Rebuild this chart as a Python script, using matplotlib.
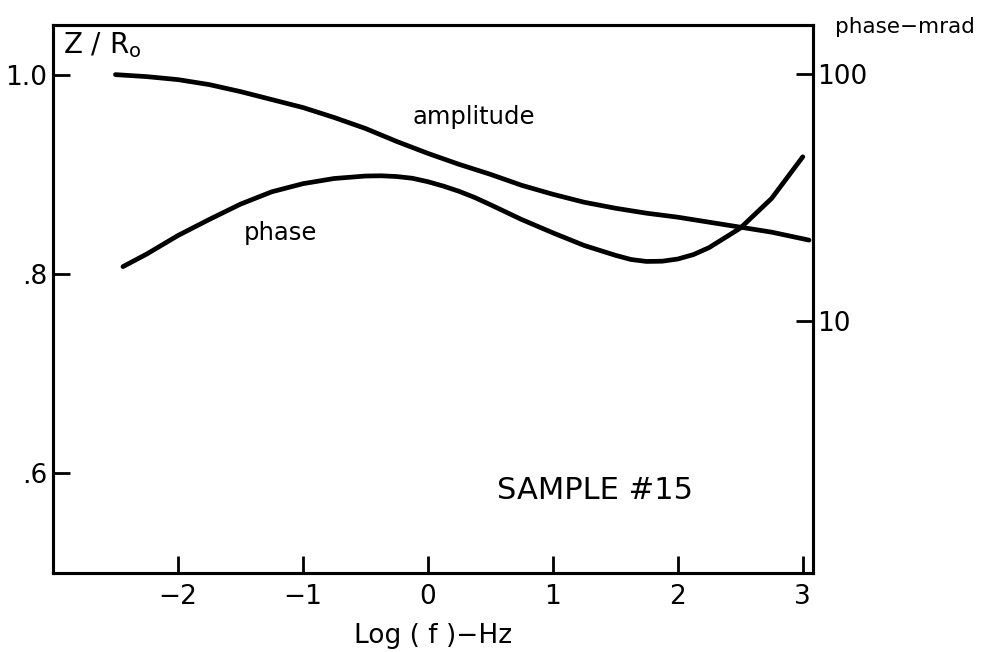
import numpy as np
import matplotlib.pyplot as plt
from matplotlib.ticker import FixedLocator, NullLocator

# amplitude curve, Z/Ro vs log(f)
amp_x = [-2.5, -2.25, -2.0, -1.75, -1.5, -1.25, -1.0, -0.75, -0.5, -0.25, 0.0,
         0.25, 0.5, 0.75, 1.0, 1.25, 1.5, 1.75, 2.0, 2.25, 2.5, 2.75, 3.05]
amp_y = [1.000, 0.998, 0.995, 0.990, 0.983, 0.975, 0.967, 0.957, 0.946, 0.933, 0.921,
         0.910, 0.900, 0.889, 0.880, 0.872, 0.866, 0.861, 0.857, 0.852, 0.847, 0.842, 0.834]

# phase curve, mrad (log scale)
ph_x = [-2.44, -2.25, -2.0, -1.75, -1.5, -1.25, -1.0, -0.75, -0.5, -0.375, -0.25,
        -0.125, 0.0, 0.125, 0.25, 0.375, 0.5, 0.75, 1.0, 1.25, 1.5, 1.625, 1.75,
        1.875, 2.0, 2.125, 2.25, 2.5, 2.75, 3.0]
ph_y = [16.56, 18.62, 22.13, 25.70, 29.65, 33.27, 35.89, 37.67, 38.55, 38.64, 38.37,
        37.76, 36.56, 35.08, 33.42, 31.55, 29.51, 25.70, 22.70, 20.18, 18.41, 17.70, 17.38,
        17.42, 17.78, 18.53, 19.77, 23.71, 31.26, 46.13]

xticks = [-2, -1, 0, 1, 2, 3]
left_ticks = [0.6, 0.8, 1.0]
left_labels = ['.6', '.8', '1.0']
right_ticks = [10, 100]
right_labels = ['10', '100']

fig = plt.figure(figsize=(9.9, 6.52), dpi=100)
ax = fig.add_axes([0.0535, 0.121, 0.7675, 0.841])
ax2 = ax.twinx()

ax.plot(amp_x, amp_y, color='black', lw=3.4, solid_capstyle='round', solid_joinstyle='round')
ax2.plot(ph_x, ph_y, color='black', lw=3.4, solid_capstyle='round', solid_joinstyle='round')

ax.set_xlim(-3.0, 3.08)
ax.set_ylim(0.5, 1.05)
ax2.set_yscale('log')
ax2.set_ylim(0.95, 158)

ax.set_xticks(xticks)
ax.set_xticklabels([str(t).replace('-', '\u2212') for t in xticks], fontsize=19)
ax.set_yticks(left_ticks)
ax.set_yticklabels(left_labels, fontsize=19)
ax2.yaxis.set_major_locator(FixedLocator(right_ticks))
ax2.yaxis.set_minor_locator(NullLocator())
ax2.set_yticklabels(right_labels, fontsize=19)

ax.tick_params(axis='both', direction='in', length=12, width=2, pad=4)
ax.tick_params(axis='x', pad=8)
ax2.tick_params(axis='y', direction='in', length=12, width=2, pad=3)

for a in (ax, ax2):
    for s in a.spines.values():
        s.set_linewidth(2.2)

ax.set_xlabel('Log ( f )\u2212Hz', fontsize=19, labelpad=9)

ax.text(0.013, 0.99, 'Z / R$_\\mathregular{o}$', transform=ax.transAxes,
        fontsize=20, va='top', ha='left')
fig.text(0.843, 0.958, 'phase\u2212mrad', fontsize=15.5, ha='left', va='center')
ax.text(-0.12, 0.957, 'amplitude', fontsize=17.5, ha='left', va='center')
ax.text(-1.47, 0.841, 'phase', fontsize=17.5, ha='left', va='center')
ax.text(0.55, 0.583, 'SAMPLE #15', fontsize=22, ha='left', va='center')

fig.savefig('out.png', dpi=100)
